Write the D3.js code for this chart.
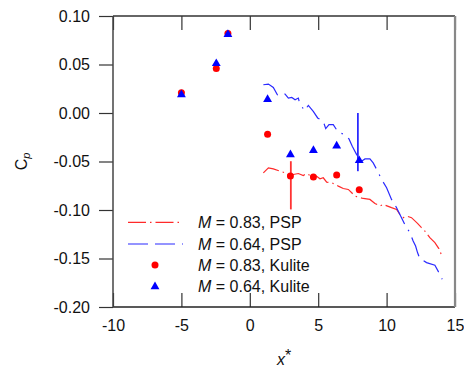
<!DOCTYPE html>
<html>
<head>
<meta charset="utf-8">
<script src="https://cdn.jsdelivr.net/npm/d3@7"></script>
<style>
  body { margin: 0; background: #fff; }
  text { font-family: Arial, "Liberation Sans", sans-serif; }
</style>
</head>
<body>
<svg id="chart"></svg>
<script>
// chart size
const width = 464, height = 369;
const margin = { top: 16, right: 9, bottom: 62, left: 113 };

// axis ticks
const xTicks = [-10, -5, 0, 5, 10, 15];
const yTicks = [0.10, 0.05, 0.00, -0.05, -0.10, -0.15, -0.20];

// Kulite points
const kuliteX = [-5, -2.45, -1.6, 1.3, 2.97, 4.65, 6.35, 8.0];
const kulite083 = [0.021, 0.046, 0.082, -0.022, -0.065, -0.066, -0.064, -0.079];
const kulite064 = [0.019, 0.051, 0.081, 0.014, -0.043, -0.0385, -0.034, -0.049];

// PSP lines
const psp064X = [0.99, 1.36, 1.72, 2.04, 2.58, 2.82, 3.07, 3.31, 3.55, 3.62, 3.99, 4.28, 4.64, 4.96,
  5.37, 5.55, 5.79, 6.10, 6.47, 6.96, 7.25, 7.49, 7.81, 8.18, 8.42, 8.78, 9.02, 9.34, 9.64, 10.0,
  10.36, 10.73, 11.09, 11.39, 11.70, 11.94, 12.12, 12.26, 12.43, 12.92, 13.53, 13.82, 14.06];
const psp064Y = [0.0291, 0.0298, 0.0263, 0.0181, 0.0195, 0.0154, 0.0160, 0.0137, 0.0154, 0.0113, 0.0023,
  0.0078, 0.0016, -0.0051, -0.0086, -0.0161, -0.0120, -0.0120, -0.0199, -0.0223, -0.0267, -0.0343,
  -0.0429, -0.0495, -0.0473, -0.0473, -0.0514, -0.0600, -0.0686, -0.0771, -0.0891, -0.0976, -0.1079,
  -0.1165, -0.1233, -0.1320, -0.1371, -0.1439, -0.1501, -0.1542, -0.1569, -0.1644, -0.1713];

const psp083X = [0.99, 1.36, 1.72, 2.21, 2.58, 2.82, 3.18, 3.55, 3.91, 4.16, 4.40, 4.89, 5.13, 5.37,
  5.62, 5.99, 6.47, 6.83, 7.20, 7.45, 7.69, 8.29, 8.78, 9.15, 9.51, 9.75, 10.36, 10.73, 10.97, 11.21,
  11.46, 11.82, 12.26, 12.55, 12.80, 13.16, 13.53, 13.82, 14.06];
const psp083Y = [-0.0617, -0.0565, -0.0576, -0.0600, -0.0617, -0.0634, -0.0634, -0.0624, -0.0644,
  -0.0624, -0.0644, -0.0652, -0.0678, -0.0668, -0.0713, -0.0719, -0.0754, -0.0778, -0.0788, -0.0822,
  -0.0857, -0.0881, -0.0891, -0.0932, -0.0960, -0.0942, -0.0976, -0.0994, -0.1045, -0.1079, -0.1063,
  -0.1079, -0.1138, -0.1182, -0.1217, -0.1285, -0.1336, -0.1398, -0.1480];

// range bars (M = 0.83 at x=3, M = 0.64 at x=8)
const barX = [3.0, 7.9];
const barLow = [-0.0994, -0.060];
const barHigh = [-0.0497, 0.000];

const legendLabels = [" = 0.83, PSP", " = 0.64, PSP", " = 0.83, Kulite", " = 0.64, Kulite"];

const red = '#ff0000', blue = '#0000ff';

const svg = d3.select('#chart').attr('width', width).attr('height', height);

const x = d3.scaleLinear().domain([-10, 15]).range([margin.left, width - margin.right]);
const y = d3.scaleLinear().domain([-0.20, 0.10]).range([height - margin.bottom, margin.top]);

// axes
svg.append('g')
  .attr('transform', `translate(0,${height - margin.bottom})`)
  .call(d3.axisBottom(x).tickValues(xTicks).tickSize(-14).tickPadding(13).tickFormat(d3.format('d')))
  .call(g => g.select('.domain').remove());

svg.append('g')
  .attr('transform', `translate(0,${margin.top})`)
  .call(d3.axisTop(x).tickValues(xTicks).tickSize(-14).tickFormat(''))
  .call(g => g.select('.domain').remove());

svg.append('g')
  .attr('transform', `translate(${margin.left},0)`)
  .call(d3.axisLeft(y).tickValues(yTicks).tickSize(14).tickPadding(9).tickFormat(d3.format('.2f')))
  .call(g => g.select('.domain').remove());

svg.selectAll('.tick line').attr('stroke', '#333').attr('stroke-width', 1.2);
svg.selectAll('.tick text').attr('fill', '#111').style('font-size', '16px')
  .text(function() { return this.textContent.replace('−', '-'); });

// frame
const x0 = x(-10), x1 = x(15), y0 = y(0.10), y1 = y(-0.20);
svg.append('line').attr('x1', x0).attr('x2', x1).attr('y1', y0).attr('y2', y0).attr('stroke', '#333').attr('stroke-width', 1.3);
svg.append('line').attr('x1', x0).attr('x2', x1).attr('y1', y1).attr('y2', y1).attr('stroke', '#222').attr('stroke-width', 1.3);
svg.append('line').attr('x1', x0).attr('x2', x0).attr('y1', y0).attr('y2', y1).attr('stroke', '#444').attr('stroke-width', 1.5);
svg.append('line').attr('x1', x1).attr('x2', x1).attr('y1', y0).attr('y2', y1).attr('stroke', '#888').attr('stroke-width', 2.2);

// PSP lines
const line = d3.line().x(d => x(d[0])).y(d => y(d[1]));
const redDash = '18,4,1.5,4';
const blueDash = '20,7,20,7,1.5,7';

svg.append('path')
  .datum(d3.zip(psp083X, psp083Y))
  .attr('d', line).attr('fill', 'none')
  .attr('stroke', '#ff2a2a').attr('stroke-width', 1.2).attr('stroke-dasharray', redDash);

svg.append('path')
  .datum(d3.zip(psp064X, psp064Y))
  .attr('d', line).attr('fill', 'none')
  .attr('stroke', '#2a2aff').attr('stroke-width', 1.2).attr('stroke-dasharray', blueDash);

// range bars
svg.selectAll('.bar')
  .data(d3.range(barX.length))
  .enter().append('line')
  .attr('x1', i => x(barX[i])).attr('x2', i => x(barX[i]))
  .attr('y1', i => y(barLow[i])).attr('y2', i => y(barHigh[i]))
  .attr('stroke', i => i === 0 ? '#ff3333' : '#2a2aff')
  .attr('stroke-width', 1.8);

// Kulite markers
const tri = d3.symbol().type(d3.symbolTriangle).size(34);

svg.selectAll('.k83')
  .data(d3.zip(kuliteX, kulite083))
  .enter().append('circle')
  .attr('cx', d => x(d[0])).attr('cy', d => y(d[1]))
  .attr('r', 3.5).attr('fill', red);

svg.selectAll('.k64')
  .data(d3.zip(kuliteX, kulite064))
  .enter().append('path')
  .attr('d', tri)
  .attr('transform', d => `translate(${x(d[0])},${y(d[1])})`)
  .attr('fill', blue);

// legend
const legY = [222.3, 244, 265, 286.7];
const leg = svg.append('g');
leg.append('line').attr('x1', 128).attr('x2', 183).attr('y1', legY[0]).attr('y2', legY[0])
  .attr('stroke', '#ff2a2a').attr('stroke-width', 1.2).attr('stroke-dasharray', redDash);
leg.append('line').attr('x1', 128).attr('x2', 183).attr('y1', legY[1]).attr('y2', legY[1])
  .attr('stroke', '#2a2aff').attr('stroke-width', 1.2).attr('stroke-dasharray', blueDash);
leg.append('circle').attr('cx', 155).attr('cy', legY[2]).attr('r', 3.5).attr('fill', red);
leg.append('path').attr('d', tri).attr('transform', `translate(155,${legY[3]})`).attr('fill', blue);

legendLabels.forEach((lab, i) => {
  const t = leg.append('text').attr('x', 198).attr('y', legY[i]).attr('dy', '0.36em')
    .style('font-size', '16px').attr('fill', '#111');
  t.append('tspan').style('font-style', 'italic').text('M');
  t.append('tspan').text(lab);
});

// axis titles
const xt = svg.append('text').attr('x', (x0 + x1) / 2).attr('y', 365)
  .attr('text-anchor', 'middle').style('font-size', '16px').attr('fill', '#111');
xt.append('tspan').style('font-style', 'italic').text('x');
xt.append('tspan').attr('dy', -4).text('*');

const yt = svg.append('text')
  .attr('transform', `translate(27,${(y0 + y1) / 2}) rotate(-90)`)
  .attr('text-anchor', 'middle').style('font-size', '16px').attr('fill', '#111');
yt.append('tspan').text('C');
yt.append('tspan').style('font-style', 'italic').style('font-size', '11px').attr('dy', 3).text('p');
</script>
</body>
</html>
